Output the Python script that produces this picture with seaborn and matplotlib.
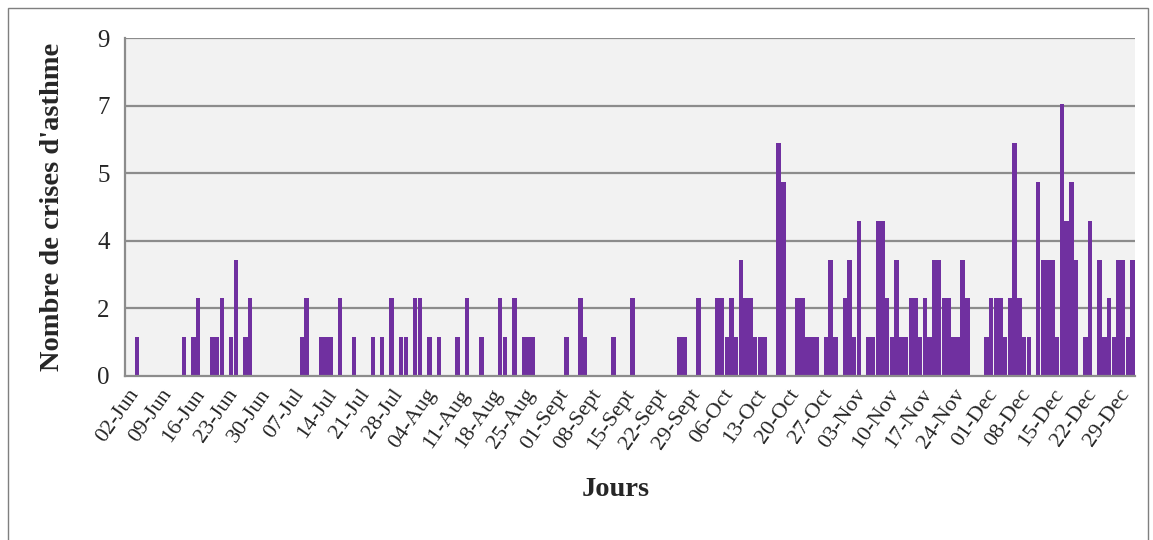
import numpy as np
import pandas as pd
import matplotlib
matplotlib.use("Agg")
import matplotlib.pyplot as plt
import seaborn as sns
from matplotlib.patches import Rectangle

# daily values (one list per month)
jun = [0, 0, 1.03, 0, 0, 0, 0, 0, 0, 0, 0, 0, 1.03, 0, 1.03, 2.07, 0, 0, 1.03, 1.03,
       2.07, 0, 1.03, 3.1, 0, 1.03, 2.07, 0, 0]                      # 02 -> 30
jul = [0, 0, 0, 0, 0, 0, 0, 0, 1.03, 2.07, 0, 0, 1.03, 1.03, 1.03, 0, 2.07, 0, 0, 1.03,
       0, 0, 0, 1.03, 0, 1.03, 0, 2.07, 0, 1.03, 1.03]
aug = [0, 2.07, 2.07, 0, 1.03, 0, 1.03, 0, 0, 0, 1.03, 0, 2.07, 0, 0, 1.03, 0, 0, 0, 2.07,
       1.03, 0, 2.07, 0, 1.03, 1.03, 1.03, 0, 0, 0, 0]
sep = [0, 0, 1.03, 0, 0, 2.07, 1.03, 0, 0, 0, 0, 0, 1.03, 0, 0, 0, 2.07, 0, 0, 0,
       0, 0, 0, 0, 0, 0, 1.03, 1.03, 0, 0]
oct_ = [2.07, 0, 0, 0, 2.07, 2.07, 1.03, 2.07, 1.03, 3.1, 2.07, 2.07, 1.03, 1.03, 1.03, 0, 0, 6.2, 5.17, 0,
        0, 2.07, 2.07, 1.03, 1.03, 1.03, 0, 1.03, 3.1, 1.03, 0]
nov = [2.07, 3.1, 1.03, 4.14, 0, 1.03, 1.03, 4.14, 4.14, 2.07, 1.03, 3.1, 1.03, 1.03, 2.07, 2.07, 1.03, 2.07, 1.03, 3.1,
       3.1, 2.07, 2.07, 1.03, 1.03, 3.1, 2.07, 0, 0, 0]
dec = [1.03, 2.07, 2.07, 2.07, 1.03, 2.07, 6.2, 2.07, 1.03, 1.03, 0, 5.17, 3.1, 3.1, 3.1, 1.03, 7.23, 4.14, 5.17, 3.1,
       0, 1.03, 4.14, 0, 3.1, 1.03, 2.07, 1.03, 3.1, 3.1, 1.03]
jan = [3.1]

month_names = ["Jun", "Jul", "Aug", "Sept", "Oct", "Nov", "Dec", "Jan"]
first_day = [2, 1, 1, 1, 1, 1, 1, 1]
month_values = [jun, jul, aug, sep, oct_, nov, dec, jan]

y_ticks = [0, 1.8, 3.6, 5.4, 7.2, 9]
y_tick_labels = ["0", "2", "4", "5", "7", "9"]

days = []
values = []
for name, start, vals in zip(month_names, first_day, month_values):
    for i, v in enumerate(vals):
        days.append(f"{start + i:02d}-{name}")
        values.append(v)
df = pd.DataFrame({"Jour": days, "Crises": values})
n = len(days)

sns.set_style("white")
plt.rcParams["font.family"] = ["Liberation Serif", "DejaVu Serif"]

grey = "#8C8C8C"
fig = plt.figure(figsize=(11.53, 5.40), dpi=100)
ax = fig.add_axes([125 / 1153, 1 - 376 / 540, 1010 / 1153, 338 / 540])

sns.barplot(data=df, x="Jour", y="Crises", color="#7030A0", saturation=1,
            width=0.95, linewidth=0, ax=ax, zorder=2)

ax.set_facecolor("#F2F2F2")
ax.set_xlim(-0.5, n - 0.5)
ax.set_ylim(0, 9)
ax.set_yticks(y_ticks)
ax.set_yticklabels(y_tick_labels, fontsize=18)
for y in y_ticks[1:]:
    ax.axhline(y, color=grey, lw=1.6, zorder=1)

ax.set_xticks(range(0, n, 7))
ax.set_xticklabels(days[::7], rotation=55, ha="right", rotation_mode="anchor", fontsize=16)
ax.set_xticks(np.arange(-0.5, n, 1), minor=True)
ax.tick_params(axis="x", which="major", length=0, pad=7)
ax.tick_params(axis="x", which="minor", length=4, width=1, color=grey, direction="out")
ax.tick_params(axis="y", length=6, width=1.6, color=grey, pad=5)

for s in ["top", "right"]:
    ax.spines[s].set_visible(False)
for s in ["left", "bottom"]:
    ax.spines[s].set_color(grey)
    ax.spines[s].set_linewidth(1.6)

ax.set_xlabel("")
ax.set_ylabel("Nombre de crises d'asthme", fontsize=20.5, fontweight="bold")
ax.yaxis.set_label_coords(-0.059, 0.5)
fig.text(616 / 1153, 1 - 490 / 540, "Jours", ha="center", va="center",
         fontsize=20.5, fontweight="bold")

fig.patches.append(Rectangle((8 / 1153, -0.1), 1140 / 1153, 1.1 - 8 / 540,
                             transform=fig.transFigure, fill=False,
                             edgecolor="#7F7F7F", lw=1))

fig.savefig("out.png", dpi=100)
